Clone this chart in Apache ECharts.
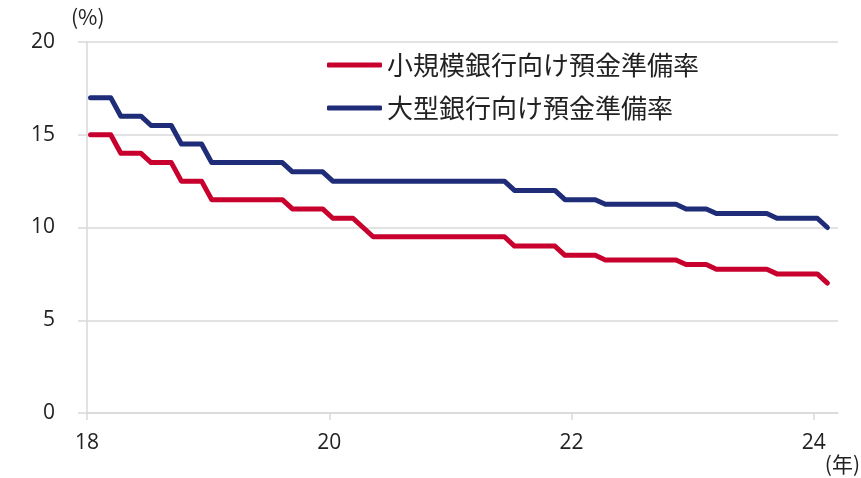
<!DOCTYPE html>
<html>
<head>
<meta charset="utf-8">
<script src="https://cdn.jsdelivr.net/npm/echarts@6/dist/echarts.min.js"></script>
<style>
  html, body { margin: 0; padding: 0; background: #fff; }
  #chart { width: 861px; height: 478px; }
</style>
</head>
<body>
<div id="chart"></div>
<script>
// month-end values, Jan 2018 - Feb 2024
const months = [
  '2018-01','2018-02','2018-03','2018-04','2018-05','2018-06','2018-07','2018-08','2018-09','2018-10','2018-11','2018-12',
  '2019-01','2019-02','2019-03','2019-04','2019-05','2019-06','2019-07','2019-08','2019-09','2019-10','2019-11','2019-12',
  '2020-01','2020-02','2020-03','2020-04','2020-05','2020-06','2020-07','2020-08','2020-09','2020-10','2020-11','2020-12',
  '2021-01','2021-02','2021-03','2021-04','2021-05','2021-06','2021-07','2021-08','2021-09','2021-10','2021-11','2021-12',
  '2022-01','2022-02','2022-03','2022-04','2022-05','2022-06','2022-07','2022-08','2022-09','2022-10','2022-11','2022-12',
  '2023-01','2023-02','2023-03','2023-04','2023-05','2023-06','2023-07','2023-08','2023-09','2023-10','2023-11','2023-12',
  '2024-01','2024-02'
];

const smallBanks = [
  15, 15, 15, 14, 14, 14, 13.5, 13.5, 13.5, 12.5, 12.5, 12.5,
  11.5, 11.5, 11.5, 11.5, 11.5, 11.5, 11.5, 11.5, 11, 11, 11, 11,
  10.5, 10.5, 10.5, 10, 9.5, 9.5, 9.5, 9.5, 9.5, 9.5, 9.5, 9.5,
  9.5, 9.5, 9.5, 9.5, 9.5, 9.5, 9, 9, 9, 9, 9, 8.5,
  8.5, 8.5, 8.5, 8.25, 8.25, 8.25, 8.25, 8.25, 8.25, 8.25, 8.25, 8,
  8, 8, 7.75, 7.75, 7.75, 7.75, 7.75, 7.75, 7.5, 7.5, 7.5, 7.5,
  7.5, 7
];

const largeBanks = [
  17, 17, 17, 16, 16, 16, 15.5, 15.5, 15.5, 14.5, 14.5, 14.5,
  13.5, 13.5, 13.5, 13.5, 13.5, 13.5, 13.5, 13.5, 13, 13, 13, 13,
  12.5, 12.5, 12.5, 12.5, 12.5, 12.5, 12.5, 12.5, 12.5, 12.5, 12.5, 12.5,
  12.5, 12.5, 12.5, 12.5, 12.5, 12.5, 12, 12, 12, 12, 12, 11.5,
  11.5, 11.5, 11.5, 11.25, 11.25, 11.25, 11.25, 11.25, 11.25, 11.25, 11.25, 11,
  11, 11, 10.75, 10.75, 10.75, 10.75, 10.75, 10.75, 10.5, 10.5, 10.5, 10.5,
  10.5, 10
];

const xTicks = [18, 20, 22, 24];

// 'YYYY-MM' -> position on the two-digit year axis
const toYear = s => {
  const [y, m] = s.split('-').map(Number);
  return (y - 2000) + (m - 0.65) / 12;
};
const pairs = vals => months.map((mo, i) => [toYear(mo), vals[i]]);

const chart = echarts.init(document.getElementById('chart'));
const grey = '#d9d9d9';
const numFont = '"Open Sans", sans-serif';
const jpFont = '"Noto Sans CJK JP", sans-serif';

const option = {
  animation: false,
  grid: { left: 87, right: 23, top: 42, bottom: 65 },
  legend: {
    orient: 'vertical',
    left: 327,
    top: 50,
    padding: 0,
    itemGap: 13,
    itemWidth: 55,
    itemHeight: 5,
    icon: 'roundRect',
    textStyle: { fontFamily: jpFont, fontSize: 26, color: '#222', lineHeight: 30 },
    data: ['小規模銀行向け預金準備率', '大型銀行向け預金準備率']
  },
  xAxis: {
    type: 'value',
    min: 18,
    max: 24.2,
    interval: 2,
    axisLine: { show: true, lineStyle: { color: grey, width: 1.5 } },
    axisTick: { show: true, length: 7, lineStyle: { color: grey, width: 1.5 }, customValues: xTicks },
    axisLabel: { customValues: xTicks, margin: 20, fontFamily: numFont, fontSize: 21, color: '#222' },
    splitLine: { show: false }
  },
  yAxis: {
    type: 'value',
    min: 0,
    max: 20,
    interval: 5,
    axisLine: { show: true, lineStyle: { color: grey, width: 1.5 } },
    axisTick: { show: true, length: 9, lineStyle: { color: grey, width: 1.5 } },
    axisLabel: { margin: 32, fontFamily: numFont, fontSize: 21, color: '#222' },
    splitLine: { show: true, lineStyle: { color: grey, width: 1.5 } }
  },
  graphic: [
    { type: 'text', left: 71, top: 7, style: { text: '(%)', font: '21px ' + jpFont, fill: '#222' } },
    { type: 'text', right: 1, top: 454, style: { text: '(年)', font: '21px ' + jpFont, fill: '#222' } }
  ],
  series: [
    {
      name: '小規模銀行向け預金準備率',
      type: 'line',
      data: pairs(smallBanks),
      showSymbol: false,
      color: '#c8002d',
      lineStyle: { width: 5, color: '#c8002d', cap: 'round', join: 'round' }
    },
    {
      name: '大型銀行向け預金準備率',
      type: 'line',
      data: pairs(largeBanks),
      showSymbol: false,
      color: '#1f2c78',
      lineStyle: { width: 5, color: '#1f2c78', cap: 'round', join: 'round' }
    }
  ]
};

chart.setOption(option);
</script>
</body>
</html>
